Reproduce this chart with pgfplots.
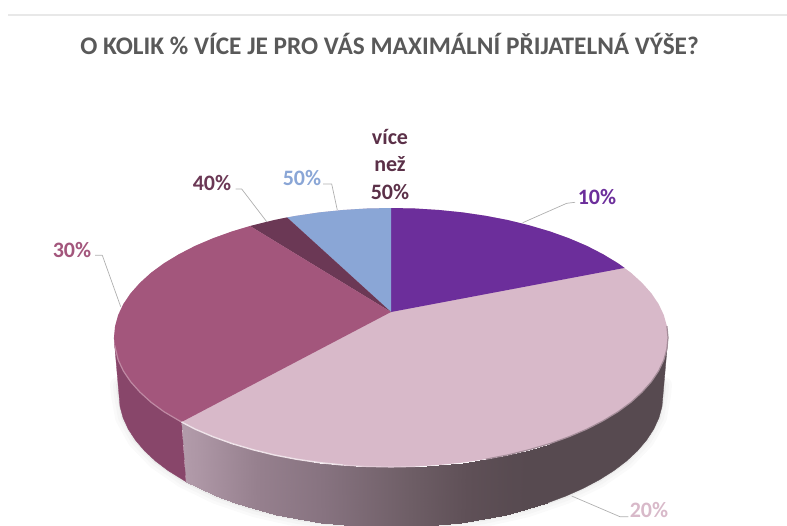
\documentclass[border=0pt]{standalone}
\usepackage{fontspec}
\setmainfont{Carlito}
\usepackage{pgfplots}
\pgfplotsset{compat=1.18}

\definecolor{cPurple}{RGB}{108,46,155}
\definecolor{cPink}{RGB}{216,185,201}
\definecolor{cMauve}{RGB}{163,86,124}
\definecolor{cDark}{RGB}{107,56,85}
\definecolor{cBlue}{RGB}{138,166,214}
\definecolor{cSideDark}{RGB}{87,74,80}
\definecolor{cSideMauve}{RGB}{136,70,106}
\definecolor{cLeader}{RGB}{175,175,175}
\definecolor{cTitle}{RGB}{89,89,89}

\tikzset{lbl/.style={font=\bfseries\fontsize{22}{24}\selectfont,anchor=center}}

\pgfplotsset{
  colormap={side}{rgb255(0pt)=(178,155,170) rgb255(71pt)=(150,128,142) rgb255(137pt)=(135,115,128)
    rgb255(224pt)=(110,94,102) rgb255(281pt)=(95,80,87) rgb255(334pt)=(87,74,80)},
}

\begin{document}
\begin{tikzpicture}
\path[use as bounding box] (0,0) rectangle (787pt,525pt);
\begin{axis}[
    scale only axis,
    width=787pt,height=525pt,
    xmin=0,xmax=787,ymin=0,ymax=525,
    y dir=reverse,
    hide axis,
    every axis plot/.append style={no markers,line join=round},
]

% rule at the top
\addplot[color=black!9,line width=1.5pt] coordinates {(8,15) (787,15)};

% soft shadow under the pie
\addplot[color=black!2,line width=16pt,line cap=round] coordinates {(664,385) (663,395) (658.9,417.9) (646.6,440.1) (626.6,461) (599.4,479.8) (565.8,496.1) (527,509.3) (484,519) (438.2,525) (391,527) (343.8,525) (298,519) (255,509.3) (216.2,496.1) (182.6,479.8) (155.4,461) (135.4,440.1) (123.1,417.9) (119,395) (118,385)};
\addplot[color=black!4,line width=10pt,line cap=round] coordinates {(664,385) (663,395) (658.9,417.9) (646.6,440.1) (626.6,461) (599.4,479.8) (565.8,496.1) (527,509.3) (484,519) (438.2,525) (391,527) (343.8,525) (298,519) (255,509.3) (216.2,496.1) (182.6,479.8) (155.4,461) (135.4,440.1) (123.1,417.9) (119,395) (118,385)};
\addplot[color=black!8,line width=4pt,line cap=round] coordinates {(664,385) (663,395) (658.9,417.9) (646.6,440.1) (626.6,461) (599.4,479.8) (565.8,496.1) (527,509.3) (484,519) (438.2,525) (391,527) (343.8,525) (298,519) (255,509.3) (216.2,496.1) (182.6,479.8) (155.4,461) (135.4,440.1) (123.1,417.9) (119,395) (118,385)};

% side wall, dark right part
\addplot[fill=cSideDark,draw=cSideDark,line width=.3pt] coordinates {
(668,337.5) (666.9,348.8) (663.8,360) (658.6,371) (651.3,381.8) (642,392.2) (630.9,402.3) (617.9,411.8) (603.2,420.7) (586.9,429.1) (569.1,436.7) (549.9,443.6)
(547,503.1) (565.8,496.1) (583.3,488.3) (599.4,479.8) (613.8,470.7) (626.6,461) (637.5,450.8) (646.6,440.1) (653.7,429.2) (658.9,417.9) (662,406.5) (663,395) (668,337.5)};

% side wall, shaded front part
\addplot[patch,patch type=rectangle,shader=interp,colormap name=side,point meta=x,point meta min=186,point meta max=520] table[row sep=\\] {
x y\\
549.9 443.6\\ 529.5 449.6\\ 527 509.3\\ 547 503.1\\
529.5 449.6\\ 508.1 454.9\\ 505.9 514.6\\ 527 509.3\\
508.1 454.9\\ 485.7 459.2\\ 484 519\\ 505.9 514.6\\
485.7 459.2\\ 462.7 462.6\\ 461.4 522.5\\ 484 519\\
462.7 462.6\\ 439.1 465\\ 438.2 525\\ 461.4 522.5\\
439.1 465\\ 415.2 466.5\\ 414.7 526.5\\ 438.2 525\\
415.2 466.5\\ 391 467\\ 391 527\\ 414.7 526.5\\
391 467\\ 366.8 466.5\\ 367.3 526.5\\ 391 527\\
366.8 466.5\\ 342.9 465\\ 343.8 525\\ 367.3 526.5\\
342.9 465\\ 319.3 462.6\\ 320.6 522.5\\ 343.8 525\\
319.3 462.6\\ 296.3 459.2\\ 298 519\\ 320.6 522.5\\
296.3 459.2\\ 273.9 454.9\\ 276.1 514.6\\ 298 519\\
273.9 454.9\\ 252.5 449.6\\ 255 509.3\\ 276.1 514.6\\
252.5 449.6\\ 232.1 443.6\\ 235 503.1\\ 255 509.3\\
232.1 443.6\\ 212.9 436.7\\ 216.2 496.1\\ 235 503.1\\
212.9 436.7\\ 195.1 429.1\\ 198.7 488.3\\ 216.2 496.1\\
195.1 429.1\\ 181.5 422\\ 185.8 481.6\\ 198.7 488.3\\
};

% side wall, mauve slice
\addplot[fill=cSideMauve,draw=cSideMauve,line width=.3pt] coordinates {
(181.5,422) (164.1,411.8) (151.1,402.3) (140,392.2) (130.7,381.8) (123.4,371) (118.2,360) (115.1,348.8) (114,337.5)
(119,395) (120,406.5) (123.1,417.9) (128.3,429.2) (135.4,440.1) (144.5,450.8) (155.4,461) (168.2,470.7) (185.8,481.6) (181.5,422)};

% top face: whole ellipse in the colour of the largest slice
\addplot[fill=cPink,draw=none] coordinates {
(668,337.5) (666.9,348.8) (663.8,360) (658.6,371) (651.3,381.8) (642,392.2) (630.9,402.3) (617.9,411.8) (603.2,420.7) (586.9,429.1) (569.1,436.7) (549.9,443.6) (529.5,449.6) (508.1,454.9) (485.7,459.2) (462.7,462.6) (439.1,465) (415.2,466.5) (391,467)
(366.8,466.5) (342.9,465) (319.3,462.6) (296.3,459.2) (273.9,454.9) (252.5,449.6) (232.1,443.6) (212.9,436.7) (195.1,429.1) (178.8,420.7) (164.1,411.8) (151.1,402.3) (140,392.2) (130.7,381.8) (123.4,371) (118.2,360) (115.1,348.8) (114,337.5)
(115.1,326.2) (118.2,315) (123.4,304) (130.7,293.2) (140,282.8) (151.1,272.7) (164.1,263.2) (178.8,254.3) (195.1,245.9) (212.9,238.3) (232.1,231.4) (252.5,225.4) (273.9,220.1) (296.3,215.8) (319.3,212.4) (342.9,210) (366.8,208.5) (391,208)
(415.2,208.5) (439.1,210) (462.7,212.4) (485.7,215.8) (508.1,220.1) (529.5,225.4) (549.9,231.4) (569.1,238.3) (586.9,245.9) (603.2,254.3) (617.9,263.2) (630.9,272.7) (642,282.8) (651.3,293.2) (658.6,304) (663.8,315) (666.9,326.2) (668,337.5)};

% 10%
\addplot[fill=cPurple,draw=none] coordinates {(391,312) (391,208) (415.2,208.5) (439.1,210) (462.7,212.4) (485.7,215.8) (508.1,220.1) (529.5,225.4) (549.9,231.4) (569.1,238.3) (586.9,245.9) (603.2,254.3) (617.9,263.2) (624.6,267.9) (391,312)};
% 50%
\addplot[fill=cBlue,draw=none] coordinates {(391,312) (391,208) (366.8,208.5) (342.9,210) (319.3,212.4) (296.3,215.8) (287,217.4) (391,312)};
% 40%
\addplot[fill=cDark,draw=none] coordinates {(391,312) (287,217.4) (273.9,220.1) (252.5,225.4) (250,226) (391,312)};
% 30%
\addplot[fill=cMauve,draw=none] coordinates {(391,312) (250,226) (232.1,231.4) (212.9,238.3) (195.1,245.9) (178.8,254.3) (164.1,263.2) (151.1,272.7) (140,282.8) (130.7,293.2) (123.4,304) (118.2,315) (115.1,326.2) (114,337.5) (115.1,348.8) (118.2,360) (123.4,371) (130.7,381.8) (140,392.2) (151.1,402.3) (164.1,411.8) (181.5,422) (391,312)};

% bevel highlights on the rim
\addplot[color=cMauve!70!white,line width=1.2pt] coordinates {(114.6,345) (118.2,360) (123.4,371) (130.7,381.8) (140,392.2) (151.1,402.3) (164.1,411.8) (181.5,422)};
\addplot[color=cPink!40!white,line width=1.4pt] coordinates {(181.5,422) (195.1,429.1) (212.9,436.7) (232.1,443.6) (252.5,449.6) (273.9,454.9) (296.3,459.2) (319.3,462.6) (342.9,465)};
\addplot[color=cPink!75!white,line width=1.1pt] coordinates {(342.9,465) (366.8,466.5) (391,467) (415.2,466.5)};
\addplot[color=cPink!60!cSideDark,line width=1.2pt] coordinates {(485.7,459.2) (508.1,454.9) (529.5,449.6) (549.9,443.6) (569.1,436.7) (586.9,429.1) (603.2,420.7) (617.9,411.8) (630.9,402.3) (642,392.2) (651.3,381.8) (658.6,371) (663.8,360) (666.9,348.8) (668,337.5) (666.9,326.2)};

% leader lines
\addplot[color=cLeader,line width=.7pt] coordinates {(522.7,222.7) (566.7,203.3) (575,202.3)};
\addplot[color=cLeader,line width=.7pt] coordinates {(323,184) (331.7,184) (337.3,210)};
\addplot[color=cLeader,line width=.7pt] coordinates {(235.7,189) (241.7,189) (266.7,221.7)};
\addplot[color=cLeader,line width=.7pt] coordinates {(95,255.3) (102.3,255.3) (120.7,306.7)};
\addplot[color=cLeader,line width=.7pt] coordinates {(571.7,496) (620,516.7) (628.3,516.7)};

% labels
\node[lbl,text=cPurple] at (axis cs:597,197) {10\%};
\node[lbl,text=cPink] at (axis cs:649,510) {20\%};
\node[lbl,text=cMauve] at (axis cs:72,250) {30\%};
\node[lbl,text=cDark] at (axis cs:212,183) {40\%};
\node[lbl,text=cBlue] at (axis cs:302,178) {50\%};
\node[text=cDark!85!black,align=center,font=\bfseries\fontsize{22}{27.5}\selectfont] at (axis cs:390,164) {více\\než\\50\%};

% title
\node[font=\bfseries\fontsize{25.3}{28}\selectfont,text=cTitle] at (axis cs:389.5,44) {O KOLIK \% VÍCE JE PRO VÁS MAXIMÁLNÍ PŘIJATELNÁ VÝŠE?};

\end{axis}
\end{tikzpicture}
\end{document}
